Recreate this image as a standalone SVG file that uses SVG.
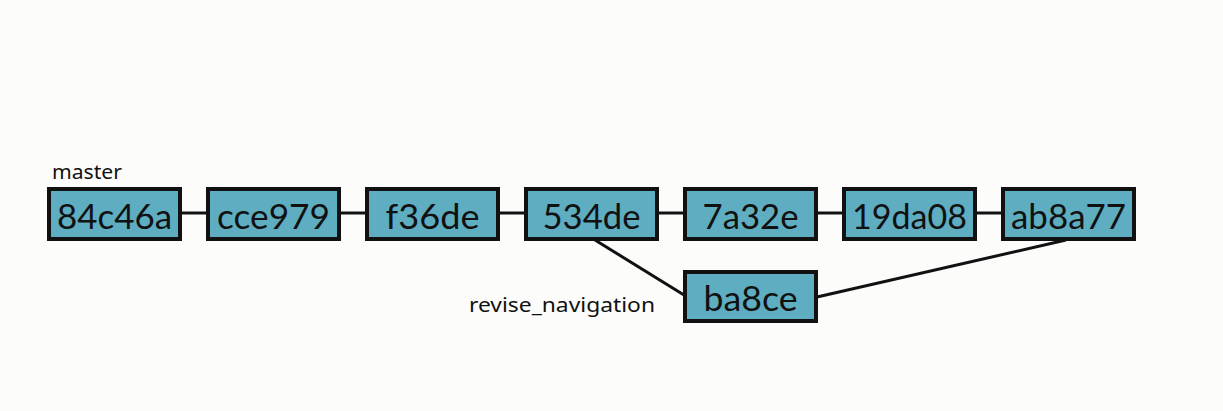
<svg xmlns="http://www.w3.org/2000/svg" width="1223" height="411" viewBox="0 0 1223 411">
<style>
.bg{fill:#fcfcfb}
.box{fill:#5eadc1;stroke:#111;stroke-width:4}
.lbl{font-family:Lato,"Noto Sans",sans-serif;font-size:35px;fill:#111;text-anchor:middle}
.br{font-family:"Noto Sans",Lato,sans-serif;font-size:19px;fill:#111}
.ln{stroke:#111;stroke-width:3;fill:none}
</style>
<rect class="bg" x="0" y="0" width="1223" height="411"/>
<g id="connectors">
<line class="ln" x1="182" y1="213" x2="206" y2="213"/>
<line class="ln" x1="341" y1="213" x2="365" y2="213"/>
<line class="ln" x1="500" y1="213" x2="524" y2="213"/>
<line class="ln" x1="659" y1="213" x2="683" y2="213"/>
<line class="ln" x1="818" y1="213" x2="842" y2="213"/>
<line class="ln" x1="977" y1="213" x2="1001" y2="213"/>
<line class="ln" x1="595" y1="240" x2="684" y2="295"/>
<line class="ln" x1="817" y1="297" x2="1066" y2="240"/>
</g>
<g id="label-master"><text class="br" x="52" y="179" textLength="70" lengthAdjust="spacingAndGlyphs">master</text></g>
<g id="label-revise"><text class="br" x="469" y="312" textLength="186" lengthAdjust="spacingAndGlyphs">revise_navigation</text></g>
<g id="n84c46a"><rect class="box" x="49" y="189" width="131" height="50"/><text class="lbl" x="114.5" y="229" textLength="115" lengthAdjust="spacingAndGlyphs">84c46a</text></g>
<g id="ncce979"><rect class="box" x="208" y="189" width="131" height="50"/><text class="lbl" x="273.5" y="229" textLength="113" lengthAdjust="spacingAndGlyphs">cce979</text></g>
<g id="nf36de"><rect class="box" x="367" y="189" width="131" height="50"/><text class="lbl" x="432.5" y="229" textLength="94" lengthAdjust="spacingAndGlyphs">f36de</text></g>
<g id="n534de"><rect class="box" x="526" y="189" width="131" height="50"/><text class="lbl" x="591.5" y="229" textLength="98" lengthAdjust="spacingAndGlyphs">534de</text></g>
<g id="n7a32e"><rect class="box" x="685" y="189" width="131" height="50"/><text class="lbl" x="750.5" y="229" textLength="96" lengthAdjust="spacingAndGlyphs">7a32e</text></g>
<g id="n19da08"><rect class="box" x="844" y="189" width="131" height="50"/><text class="lbl" x="909.5" y="229" textLength="115" lengthAdjust="spacingAndGlyphs">19da08</text></g>
<g id="nab8a77"><rect class="box" x="1003" y="189" width="131" height="50"/><text class="lbl" x="1068.5" y="229" textLength="115" lengthAdjust="spacingAndGlyphs">ab8a77</text></g>
<g id="nba8ce"><rect class="box" x="685" y="272" width="131" height="49"/><text class="lbl" x="750.5" y="311" textLength="94" lengthAdjust="spacingAndGlyphs">ba8ce</text></g>
</svg>
